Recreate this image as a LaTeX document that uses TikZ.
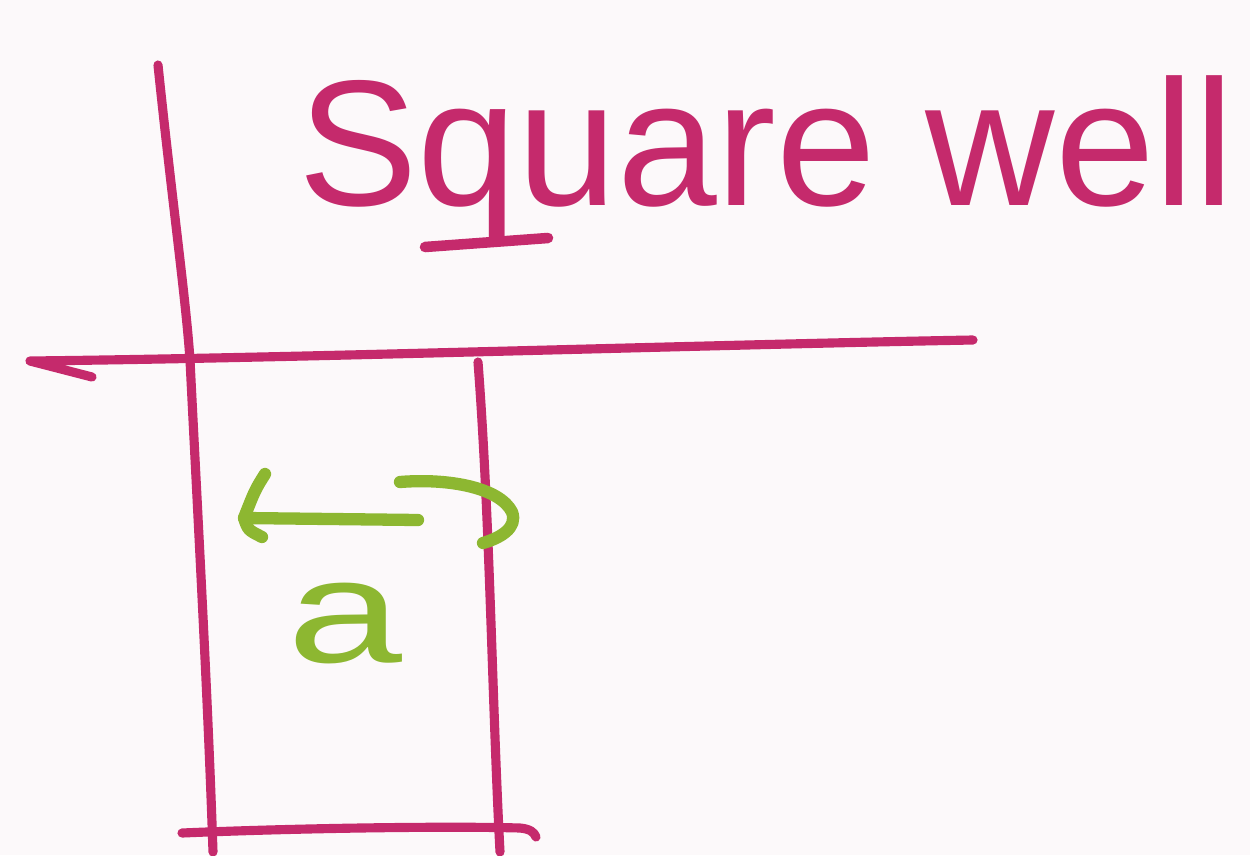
\documentclass[tikz,border=0pt]{standalone}
\usepackage{fontspec}
\setmainfont{Liberation Sans}
\definecolor{ink}{HTML}{C52A6C}
\definecolor{leaf}{HTML}{8DB731}
\definecolor{paper}{HTML}{FCF9FA}
\begin{document}
\begin{tikzpicture}[x=0.02cm,y=-0.02cm,
  pen/.style={draw=ink,line width=5.2pt,line cap=round,line join=round},
  gpen/.style={draw=leaf,line width=7pt,line cap=round,line join=round}]
\fill[paper] (0,0) rectangle (1250,855);
\useasboundingbox (0,0) rectangle (1250,855);
% axes
\coordinate (yt) at (158,65);
\coordinate (ym) at (190,360);
\coordinate (yb) at (213,852);
\draw[pen] (yt) .. controls (172,200) and (186,300) .. (ym) .. controls (198,520) and (208,700) .. (yb);
\coordinate (xl) at (30,361);
\coordinate (xr) at (973,340);
\coordinate (xk) at (92,377);
\draw[pen] (xk) -- (xl) .. controls (300,358) and (700,345) .. (xr);
% right wall and floor
\coordinate (rt) at (478,362);
\coordinate (rb) at (500,852);
\draw[pen] (rt) .. controls (490,520) and (492,700) .. (rb);
\coordinate (fl) at (182,833);
\coordinate (fr) at (536,837);
\draw[pen] (fl) .. controls (300,828) and (450,826) .. (520,828) .. controls (530,829) and (534,832) .. (fr);
% title
\node[text=ink,anchor=base west,inner sep=0pt,font=\fontsize{102}{102}\selectfont] (title) at (298,205) {Square well};
\coordinate (ul) at (425,247);
\coordinate (ur) at (548,238);
\draw[pen,line width=6pt] (ul) -- (ur);
% green arrow
\coordinate (at) at (418,520);
\coordinate (ah) at (244,518);
\coordinate (b1) at (265,474);
\coordinate (b2) at (262,537);
\draw[gpen] (at) -- (ah);
\draw[gpen] (b1) .. controls (255,490) .. (ah) .. controls (248,530) .. (b2);
\coordinate (hs) at (400,482);
\coordinate (he) at (483,543);
\draw[gpen] (hs) .. controls (450,478) and (500,488) .. (512,512) .. controls (518,528) and (500,538) .. (he);
% label a
\node[text=leaf,inner sep=0pt,font=\fontsize{84}{84}\selectfont,xscale=1.4,anchor=base] (lbl) at (345,662) {a};
\end{tikzpicture}
\end{document}
